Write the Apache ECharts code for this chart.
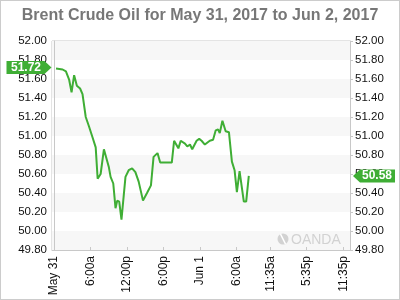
<!DOCTYPE html>
<html><head><meta charset="utf-8">
<script src="https://cdn.jsdelivr.net/npm/echarts@6/dist/echarts.min.js"></script>
<style>html,body{margin:0;padding:0;background:#fff}#c{width:398px;height:298px;border:1px solid #ccc}</style>
</head><body><div id="c"></div>
<script>
// hours since May 31, 2017 00:00
var hours = [0.33,1.42,1.96,2.50,2.89,3.31,3.76,4.29,4.69,5.22,5.76,6.32,6.86,7.18,7.67,8.21,9.03,9.31,9.75,10.12,10.40,10.73,11.10,11.76,12.29,12.85,13.39,13.93,14.64,15.30,15.95,16.38,17.03,17.47,19.38,19.76,20.08,20.46,20.85,21.55,21.93,22.37,22.74,23.46,23.89,24.28,24.82,25.63,26.17,26.61,26.99,27.27,27.71,28.24,28.78,29.27,29.71,30.09,30.53,30.81,31.23,31.62,32.05];
var prices = [51.71,51.70,51.68,51.59,51.46,51.64,51.53,51.50,51.44,51.20,51.10,50.99,50.88,50.55,50.60,50.86,50.67,50.57,50.50,50.24,50.32,50.31,50.12,50.57,50.64,50.66,50.62,50.52,50.32,50.40,50.48,50.78,50.82,50.72,50.72,50.95,50.94,50.87,50.95,50.92,50.89,50.91,50.86,50.95,50.97,50.95,50.91,50.95,50.96,51.06,51.07,51.03,51.16,51.05,51.04,50.73,50.64,50.41,50.63,50.64,50.31,50.31,50.58];
var tickHours = [0,6,12,18,24,30,35.58,41.58,47.58];
var tickLabels = ['May 31','6:00a','12:00p','6:00p','Jun 1','6:00a','11:35a','5:35p','11:35p'];
var openPrice = 51.72, lastPrice = 50.58;
var xMin = -0.33, xMax = 48.7;
var green = '#3fae35';
var font = 'Liberation Sans, Arial, sans-serif';

var chart = echarts.init(document.getElementById('c'), null, {renderer:'canvas'});
var yCommon = {
  type:'value', min:49.8, max:52, interval:0.2,
  axisLine:{show:true, lineStyle:{color:'#c8c8c8'}},
  splitLine:{show:false},
  axisLabel:{color:'#111', fontSize:11.5, fontFamily:font, formatter:function(v){return v.toFixed(2);}}
};
chart.setOption({
  animation:false,
  title:{text:'Brent Crude Oil for May 31, 2017 to Jun 2, 2017', left:'center', top:2,
    textStyle:{color:'#777', fontSize:16, fontWeight:'bold', fontFamily:font}},
  grid:{left:51, right:49, top:40, bottom:49, show:true, borderColor:'#c8c8c8', borderWidth:1, backgroundColor:'transparent'},
  xAxis:{type:'value', min:xMin, max:xMax,
    axisLine:{show:true, lineStyle:{color:'#c8c8c8'}},
    splitLine:{show:false},
    axisTick:{show:true, inside:true, length:3, customValues:tickHours, lineStyle:{color:'#c8c8c8'}},
    axisLabel:{rotate:90, margin:6, color:'#111', fontSize:12, fontFamily:font, customValues:tickHours,
      formatter:function(v){var i=tickHours.indexOf(v);return i>=0?tickLabels[i]:'';}}
  },
  yAxis:[
    Object.assign({}, yCommon, {position:'left', axisTick:{show:false},
      splitArea:{show:true, areaStyle:{color:['#f7f7f7','#ffffff']}},
      axisLabel:Object.assign({}, yCommon.axisLabel, {margin:5})}),
    Object.assign({}, yCommon, {position:'right', axisTick:{show:true, length:3, lineStyle:{color:'#c8c8c8'}},
      axisLabel:Object.assign({}, yCommon.axisLabel, {margin:5})})
  ],
  graphic:{elements:[
      {type:'circle', z:100, silent:true, shape:{cx:282, cy:238, r:5.5}, style:{fill:'#d2d2d2'}},
      {type:'line', z:101, silent:true, shape:{x1:279.5, y1:233, x2:284.5, y2:243}, style:{stroke:'#fff', lineWidth:1.6}},
      {type:'text', z:100, silent:true, x:290, y:232, style:{text:'OANDA', fill:'#d2d2d2', font:'14px '+font, textVerticalAlign:'top'}}
  ]},
  series:[{
    type:'line', yAxisIndex:0, showSymbol:false, smooth:false,
    lineStyle:{color:green, width:2}, itemStyle:{color:green},
    data:hours.map(function(h,i){return [h, prices[i]];}),
    markPoint:{silent:true, animation:false, data:[
      {coord:[xMin, openPrice], symbol:'path://M0,0 H38 L45,6.5 L38,13 H0 Z', symbolSize:[45,13], symbolOffset:[-23,0],
        itemStyle:{color:green}, label:{show:true, position:'inside', offset:[-3,0], formatter:openPrice.toFixed(2), color:'#fff', fontWeight:'bold', fontSize:12, fontFamily:font}},
      {coord:[xMax, lastPrice], symbol:'path://M7,0 H42 V13 H7 L0,6.5 Z', symbolSize:[42,13], symbolOffset:[24,0],
        itemStyle:{color:green}, label:{show:true, position:'inside', offset:[3,0], formatter:lastPrice.toFixed(2), color:'#fff', fontWeight:'bold', fontSize:12, fontFamily:font}}
    ]}
  }]
});
</script></body></html>
